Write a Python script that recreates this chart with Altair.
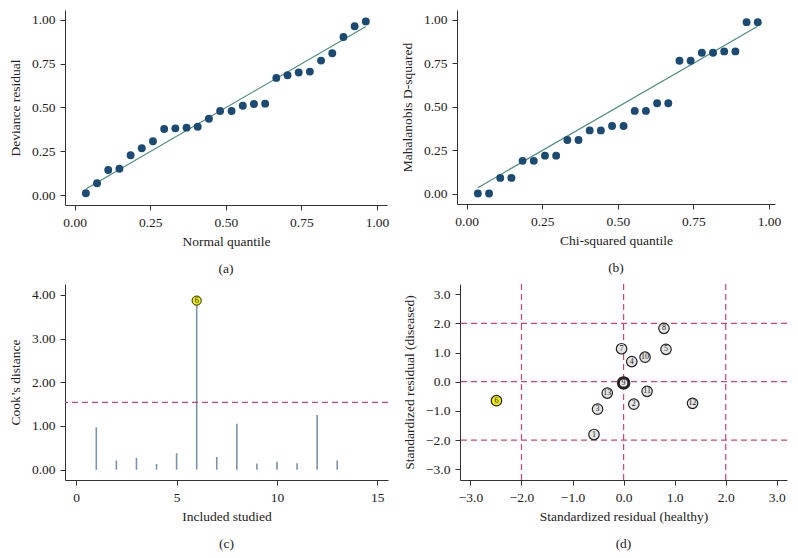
import altair as alt
import pandas as pd

FONT = "Liberation Serif"

# Panel (a)
q_norm = [0.037, 0.074, 0.111, 0.148, 0.185, 0.222, 0.259, 0.296, 0.333, 0.370, 0.407, 0.444, 0.481,
          0.519, 0.556, 0.593, 0.630, 0.667, 0.704, 0.741, 0.778, 0.815, 0.852, 0.889, 0.926, 0.963]
dev_res = [0.010, 0.067, 0.143, 0.150, 0.227, 0.267, 0.307, 0.377, 0.381, 0.385, 0.390, 0.436, 0.480,
           0.480, 0.510, 0.520, 0.522, 0.669, 0.684, 0.700, 0.705, 0.768, 0.810, 0.903, 0.964, 0.992]
line_a_x = [0.037, 0.963]
line_a_y = [0.035, 0.963]

# Panel (b)
q_chi = q_norm
maha = [0.002, 0.002, 0.092, 0.092, 0.190, 0.190, 0.220, 0.220, 0.310, 0.310, 0.365, 0.365, 0.390,
        0.390, 0.477, 0.477, 0.521, 0.521, 0.765, 0.765, 0.811, 0.811, 0.819, 0.819, 0.987, 0.987]
line_b_x = [0.037, 0.963]
line_b_y = [0.036, 0.963]

# Panel (c)
study = [1, 2, 3, 4, 5, 6, 7, 8, 9, 10, 11, 12, 13]
cooks = [0.97, 0.21, 0.27, 0.13, 0.38, 3.87, 0.29, 1.05, 0.14, 0.18, 0.145, 1.25, 0.21]
cooks_threshold = 1.54

# Panel (d)
d_label = ["1", "2", "3", "4", "5", "6", "7", "8", "9", "10", "11", "12", "13"]
d_healthy = [-0.58, 0.20, -0.51, 0.16, 0.83, -2.49, -0.04, 0.79, 0.0, 0.42, 0.46, 1.35, -0.32]
d_diseased = [-1.81, -0.77, -0.94, 0.69, 1.11, -0.65, 1.13, 1.83, -0.04, 0.84, -0.33, -0.74, -0.39]
d_cut = [-2, 0, 2]
d_ticks = [-3, -2, -1, 0, 1, 2, 3]

NAVY = "#1b4a72"
GREEN = "#4f8c7c"
RED = "#c8467a"
STEM = "#7b93ab"
YELLOW = "#f2ee00"


def axis(values, fmt, title, orient):
    return alt.Axis(values=values, tickCount=len(values) + 2, format=fmt, title=title, grid=False,
                    tickSize=5, labelPadding=5, titlePadding=(9 if orient == "left" else 6),
                    labelOverlap=False,
                    domainColor="#333", tickColor="#333", labelColor="#222", titleColor="#222",
                    labelFont=FONT, titleFont=FONT, labelFontSize=13.5, titleFontSize=13.5,
                    titleFontWeight="normal")


def caption(t):
    return alt.TitleParams(t, orient="bottom", font=FONT, fontSize=13.5, fontWeight="normal",
                           color="#222", offset=14)


q_ticks = [0, 0.25, 0.5, 0.75, 1]

# (a)
df_a = pd.DataFrame({"q": q_norm, "v": dev_res})
la = pd.DataFrame({"q": line_a_x, "v": line_a_y})
xa = alt.Scale(domain=[-0.032, 1.033], nice=False, zero=False)
ya = alt.Scale(domain=[-0.057, 1.057], nice=False, zero=False)
pa = alt.Chart(df_a).mark_circle(size=62, color=NAVY, opacity=1).encode(
    x=alt.X("q:Q", scale=xa, axis=axis(q_ticks, ".2f", "Normal quantile", "bottom")),
    y=alt.Y("v:Q", scale=ya, axis=axis(q_ticks, ".2f", "Deviance residual", "left")))
lna = alt.Chart(la).mark_line(color=GREEN, strokeWidth=1.2).encode(x="q:Q", y="v:Q")
chart_a = alt.layer(lna, pa).properties(width=322, height=195, title=caption("(a)"))

# (b)
df_b = pd.DataFrame({"q": q_chi, "v": maha})
lb = pd.DataFrame({"q": line_b_x, "v": line_b_y})
xb = alt.Scale(domain=[-0.032, 1.02], nice=False, zero=False)
yb = alt.Scale(domain=[-0.058, 1.057], nice=False, zero=False)
pb = alt.Chart(df_b).mark_circle(size=62, color=NAVY, opacity=1).encode(
    x=alt.X("q:Q", scale=xb, axis=axis(q_ticks, ".2f", "Chi-squared quantile", "bottom")),
    y=alt.Y("v:Q", scale=yb, axis=axis(q_ticks, ".2f", "Mahalanobis D-squared", "left")))
lnb = alt.Chart(lb).mark_line(color=GREEN, strokeWidth=1.2).encode(x="q:Q", y="v:Q")
chart_b = alt.layer(lnb, pb).properties(width=318, height=194, title=caption("(b)"))

# (c)
df_c = pd.DataFrame({"s": study, "d": cooks, "z": [0] * len(study)})
xc = alt.Scale(domain=[-0.56, 15.53], nice=False, zero=False)
yc = alt.Scale(domain=[-0.236, 4.25], nice=False, zero=False)
stems = alt.Chart(df_c).mark_rule(color=STEM, strokeWidth=1.6).encode(
    x=alt.X("s:Q", scale=xc, axis=axis([0, 5, 10, 15], "d", "Included studied", "bottom")),
    y=alt.Y("z:Q", scale=yc, axis=axis([0, 1, 2, 3, 4], ".2f", "Cook\u2019s distance", "left")),
    y2="d:Q")
thr = alt.Chart(pd.DataFrame({"t": [cooks_threshold]})).mark_rule(
    color=RED, strokeDash=[6, 4], strokeWidth=1.2).encode(y="t:Q")
df_c6 = df_c[df_c["d"] > cooks_threshold].copy()
df_c6["lab"] = df_c6["s"].astype(str)
dot6 = alt.Chart(df_c6).mark_point(filled=True, fill=YELLOW, stroke="#222", strokeWidth=1,
                                   opacity=1, size=85, shape="circle").encode(x="s:Q", y="d:Q")
txt6 = alt.Chart(df_c6).mark_text(font=FONT, fontSize=8, color="#222").encode(
    x="s:Q", y="d:Q", text="lab:N")
chart_c = alt.layer(stems, thr, dot6, txt6).properties(width=323, height=196, title=caption("(c)"))

# (d)
df_d = pd.DataFrame({"lab": d_label, "h": d_healthy, "dz": d_diseased})
df_d["hl"] = ["y" if l == "6" else "n" for l in d_label]
df_d["sw"] = ["b" if l == "9" else "n" for l in d_label]
xd = alt.Scale(domain=[-3.204, 3.2], nice=False, zero=False)
yd = alt.Scale(domain=[-3.37, 3.35], nice=False, zero=False)
ax_dx = axis(d_ticks, ".1f", "Standardized residual (healthy)", "bottom")
ax_dy = axis(d_ticks, ".1f", "Standardized residual (diseased)", "left")
vcut = alt.Chart(pd.DataFrame({"cx": d_cut})).mark_rule(
    color=RED, strokeDash=[6, 4], strokeWidth=1.2).encode(
    x=alt.X("cx:Q", scale=xd, axis=ax_dx))
hcut = alt.Chart(pd.DataFrame({"cy": d_cut})).mark_rule(
    color=RED, strokeDash=[6, 4], strokeWidth=1.2).encode(
    y=alt.Y("cy:Q", scale=yd, axis=ax_dy))
circ = alt.Chart(df_d).mark_point(filled=True, stroke="#222", opacity=1,
                                  size=110, shape="circle").encode(
    x=alt.X("h:Q", scale=xd, axis=ax_dx),
    y=alt.Y("dz:Q", scale=yd, axis=ax_dy),
    fill=alt.Fill("hl:N", scale=alt.Scale(domain=["n", "y"], range=["#e4e4e4", YELLOW]), legend=None),
    strokeWidth=alt.StrokeWidth("sw:N", scale=alt.Scale(domain=["n", "b"], range=[1.2, 3]), legend=None))
lab = alt.Chart(df_d).mark_text(font=FONT, fontSize=8, color="#222").encode(
    x="h:Q", y="dz:Q", text="lab:N")
chart_d = alt.layer(vcut, hcut, circ, lab).properties(
    width=327, height=196, title=caption("(d)"))

row1 = alt.hconcat(chart_a, chart_b, spacing=11)
row2 = alt.hconcat(chart_c, chart_d, spacing=13)
chart = alt.vconcat(row1, row2, spacing=7).properties(
    padding={"left": 0, "top": 2, "right": 0, "bottom": 0}
).configure_view(stroke=None).configure_axis(grid=False, labelOverlap=False)

chart.save("out.html", embed_options={"renderer": "svg", "actions": False})
